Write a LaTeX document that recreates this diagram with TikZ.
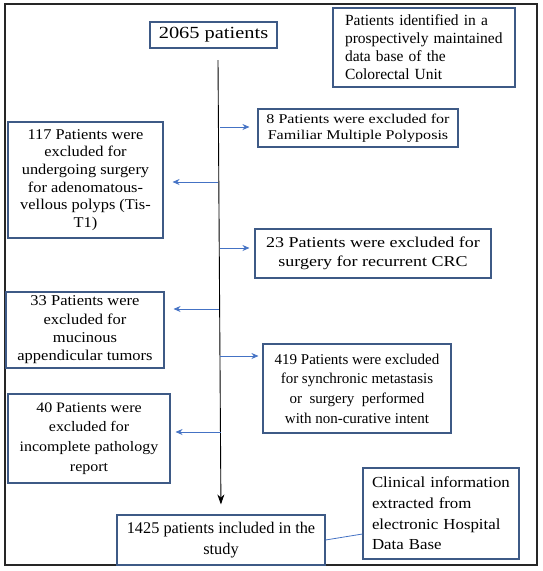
\documentclass[tikz,border=0pt]{standalone}
\usepackage{fontspec}
\setmainfont{Liberation Serif}
\newfontfamily\wf[FakeStretch=1.1]{Liberation Serif}
\newfontfamily\wwf[FakeStretch=1.2]{Liberation Serif}
\usetikzlibrary{arrows.meta}
\definecolor{boxc}{HTML}{3E5A86}
\definecolor{arrc}{HTML}{4472C4}
\begin{document}
\begin{tikzpicture}[x=1pt,y=-1pt,
  box/.style={draw=boxc,line width=1.1pt,inner sep=0pt,align=center},
  barrow/.style={draw=arrc,line width=0.8pt,-{Stealth[length=7pt,width=6pt]}},
  karrow/.style={draw=black,line width=0.9pt,-{Stealth[length=10pt,width=7pt]}}]
\useasboundingbox (0,0) rectangle (543,571);
\draw[line width=1.4pt,draw=black!85] (5,4) rectangle (537,565);
\node[box,minimum width=127pt,minimum height=26pt,font=\wwf\fontsize{17}{19}\selectfont] (top) at (213.5,35) {2065 patients};
\node[box,minimum width=182pt,minimum height=79pt,align=left,text width=158pt,font=\fontsize{15.5}{18}\selectfont] (ident) at (424,47.5) {Patients identified in a\\prospectively maintained\\data base of the\\Colorectal Unit};
\node[box,minimum width=200pt,minimum height=38pt,font=\wwf\fontsize{13.4}{16}\selectfont] (fam) at (358,128) {8 Patients were excluded for\\Familiar Multiple Polyposis};
\node[box,minimum width=155pt,minimum height=116pt,font=\wf\fontsize{14.9}{17.7}\selectfont] (ade) at (85.5,180) {117 Patients were\\excluded for\\undergoing surgery\\for adenomatous-\\vellous polyps (Tis-\\T1)};
\node[box,minimum width=236pt,minimum height=49pt,font=\wwf\fontsize{15}{19}\selectfont] (rec) at (373,253.5) {23 Patients were excluded for\\surgery for recurrent CRC};
\node[box,minimum width=158pt,minimum height=76pt,font=\wf\fontsize{15}{18.3}\selectfont] (muc) at (85,330) {33 Patients were\\excluded for\\mucinous\\appendicular tumors};
\node[box,minimum width=188pt,minimum height=89pt,font=\fontsize{15}{19.6}\selectfont] (met) at (357,388.5) {419 Patients were excluded\\for synchronic metastasis\\or\ \ surgery\ \ performed\\with non-curative intent};
\node[box,minimum width=162pt,minimum height=89pt,font=\wf\fontsize{14.5}{19.8}\selectfont] (path) at (89,438.5) {40 Patients were\\excluded for\\incomplete pathology\\report};
\node[box,minimum width=208pt,minimum height=50pt,font=\fontsize{16.3}{21.5}\selectfont] (final) at (221,540) {1425 patients included in the\\study};
\node[box,minimum width=156pt,minimum height=91pt,align=left,text width=138pt,font=\wf\fontsize{15.3}{20.7}\selectfont] (clin) at (441,513.5) {Clinical information\\extracted from\\electronic Hospital\\Data Base};
\coordinate (vtop) at (218,60);
\draw[karrow,shorten >=10pt] (vtop) -- (final.north);
\coordinate (a1) at (220,127);
\coordinate (a2) at (218,182);
\coordinate (a3) at (220,248);
\coordinate (a4) at (219,309);
\coordinate (a5) at (220,356);
\coordinate (a6) at (221,432);
\draw[barrow,shorten >=8pt] (a1) -- (a1 -| fam.west);
\draw[barrow,shorten >=9pt] (a2) -- (a2 -| ade.east);
\draw[barrow,shorten >=5pt] (a3) -- (a3 -| rec.west);
\draw[barrow,shorten >=9pt] (a4) -- (a4 -| muc.east);
\draw[barrow,shorten >=4pt] (a5) -- (a5 -| met.west);
\draw[barrow,shorten >=5pt] (a6) -- (a6 -| path.east);
\draw[draw=arrc,line width=0.8pt] (final.east) -- ([yshift=-20.5pt]clin.west);
\end{tikzpicture}
\end{document}
